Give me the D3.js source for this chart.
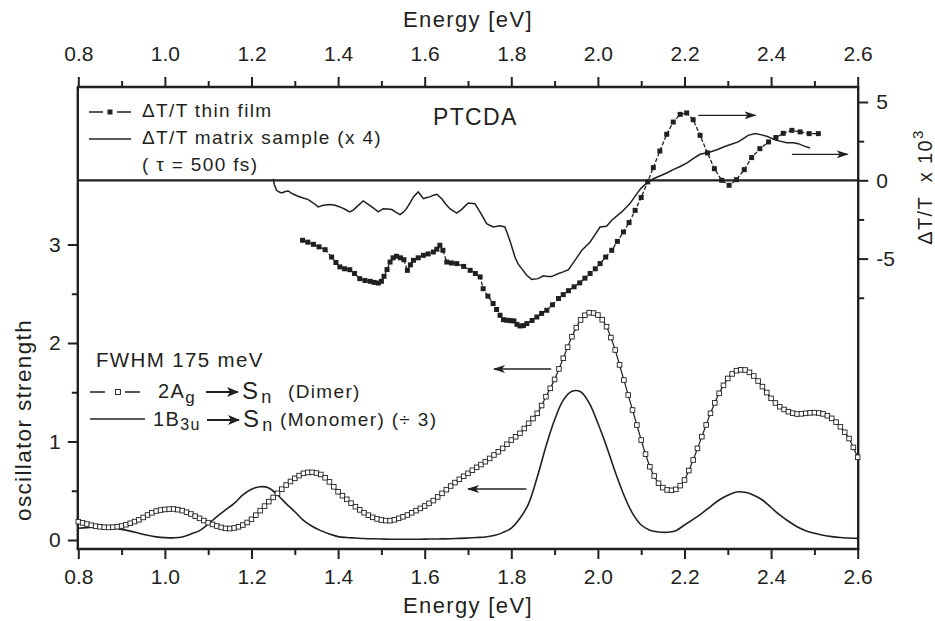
<!DOCTYPE html>
<html><head><meta charset="utf-8">
<script src="https://cdn.jsdelivr.net/npm/d3@7"></script>
<style>
body{margin:0;background:#fff}
svg{display:block}
text{font-family:"Liberation Sans",Arial,Helvetica,sans-serif;fill:#231f20}
.lbl{letter-spacing:1.35px}
</style>
</head><body>
<svg id="c" width="935" height="621"></svg>
<script>
// ---------- DATA ----------
const xMajorTicks = [0.8,1.0,1.2,1.4,1.6,1.8,2.0,2.2,2.4,2.6];
const xMinorTicks = [0.9,1.1,1.3,1.5,1.7,1.9,2.1,2.3,2.5];
const leftMajorTicks = [0,1,2,3];
const leftMinorTicks = [0.5,1.5,2.5];
const rightMajorTicks = [-5,0,5];
const rightMinorTicks = [-7.5,-2.5,2.5];

// Dimer 2Ag -> Sn, energies 0.80..2.60 step 0.01
const dimerStart = 0.80, dimerStep = 0.01;
const dimer = [
0.186,0.174,0.162,0.150,0.140,0.134,0.130,0.128,0.130,0.135,
0.142,0.155,0.170,0.187,0.205,0.229,0.254,0.276,0.294,0.304,
0.310,0.314,0.315,0.308,0.298,0.282,0.264,0.242,0.220,0.197,
0.176,0.158,0.142,0.128,0.118,0.116,0.122,0.134,0.152,0.178,
0.210,0.252,0.298,0.344,0.390,0.432,0.474,0.516,0.558,0.594,
0.626,0.654,0.677,0.686,0.687,0.680,0.665,0.632,0.590,0.540,
0.490,0.450,0.413,0.374,0.338,0.306,0.277,0.252,0.230,0.214,
0.203,0.197,0.196,0.205,0.220,0.236,0.254,0.276,0.298,0.321,
0.345,0.372,0.400,0.437,0.474,0.511,0.548,0.583,0.616,0.647,
0.677,0.708,0.738,0.766,0.795,0.828,0.863,0.896,0.930,0.972,
1.015,1.048,1.083,1.132,1.185,1.233,1.286,1.365,1.455,1.540,
1.630,1.737,1.845,1.958,2.064,2.156,2.234,2.282,2.308,2.304,
2.284,2.236,2.166,2.055,1.929,1.778,1.624,1.472,1.320,1.167,
1.015,0.872,0.744,0.650,0.576,0.532,0.508,0.504,0.514,0.552,
0.609,0.705,0.812,0.930,1.049,1.168,1.286,1.392,1.489,1.570,
1.640,1.686,1.719,1.728,1.726,1.702,1.665,1.614,1.557,1.497,
1.438,1.391,1.353,1.325,1.303,1.288,1.279,1.281,1.286,1.291,
1.293,1.289,1.280,1.262,1.235,1.197,1.150,1.094,1.030,0.940,
0.840];

// Monomer 1B3u -> Sn (/3), energies 0.80..2.60 step 0.02
const monoStart = 0.80, monoStep = 0.02;
const monomer = [
0.120,0.125,0.130,0.130,0.122,0.108,0.090,0.068,0.048,0.032,
0.024,0.022,0.030,0.061,0.095,0.160,0.237,0.305,0.372,0.457,
0.515,0.541,0.528,0.457,0.370,0.287,0.200,0.140,0.095,0.060,
0.034,0.025,0.020,0.015,0.012,0.010,0.008,0.008,0.008,0.008,
0.009,0.010,0.011,0.013,0.016,0.020,0.025,0.030,0.045,0.075,
0.120,0.220,0.370,0.640,0.950,1.220,1.420,1.510,1.505,1.390,
1.185,0.950,0.690,0.457,0.270,0.152,0.100,0.081,0.078,0.095,
0.152,0.210,0.270,0.340,0.406,0.455,0.487,0.484,0.455,0.406,
0.330,0.254,0.190,0.135,0.095,0.068,0.048,0.034,0.025,0.020,
0.016];

// dT/T thin film (x10^3): [energy, value]
const thinFilm = [
[1.318,-3.83],[1.330,-3.95],[1.343,-4.09],[1.356,-4.25],[1.370,-4.43],[1.385,-4.90],[1.395,-5.25],[1.404,-5.53],
[1.415,-5.65],[1.427,-5.71],[1.438,-5.95],[1.450,-6.28],[1.462,-6.40],[1.474,-6.45],[1.483,-6.52],[1.493,-6.56],
[1.500,-6.45],[1.506,-6.13],[1.513,-5.70],[1.520,-5.22],[1.527,-4.95],[1.535,-4.85],[1.544,-4.95],[1.552,-5.07],
[1.560,-5.75],[1.567,-5.40],[1.574,-5.11],[1.585,-4.95],[1.597,-4.79],[1.608,-4.70],[1.620,-4.58],[1.628,-4.40],
[1.635,-4.15],[1.642,-4.47],[1.651,-5.22],[1.662,-5.28],[1.674,-5.32],[1.690,-5.50],[1.705,-5.75],[1.717,-5.95],
[1.728,-6.17],[1.735,-6.92],[1.746,-7.40],[1.758,-7.87],[1.766,-8.25],[1.774,-8.62],[1.782,-8.90],[1.790,-8.94],
[1.798,-8.96],[1.806,-8.98],[1.813,-9.20],[1.820,-9.30],[1.828,-9.28],[1.836,-9.15],[1.848,-8.95],[1.859,-8.73],
[1.870,-8.50],[1.882,-8.30],[1.895,-7.95],[1.909,-7.55],[1.920,-7.30],[1.932,-7.05],[1.945,-6.80],[1.958,-6.55],
[1.970,-6.25],[1.982,-5.95],[1.994,-5.65],[2.005,-5.32],[2.018,-4.90],[2.032,-4.47],[2.045,-3.90],[2.059,-3.30],
[2.072,-2.70],[2.086,-1.92],[2.100,-1.10],[2.115,-0.10],[2.128,0.81],[2.143,1.87],[2.159,2.94],[2.174,3.72],
[2.190,4.21],[2.205,4.30],[2.220,3.87],[2.236,2.87],[2.253,1.75],[2.269,0.74],[2.286,0.00],[2.303,-0.32],
[2.320,0.04],[2.338,0.68],[2.355,1.45],[2.374,2.02],[2.394,2.45],[2.411,2.73],[2.428,3.00],[2.448,3.19],
[2.467,3.09],[2.488,2.98],[2.509,2.98]];

// dT/T matrix sample (x4, x10^3): [energy, value]
const matrixSample = [
[1.250,0.10],[1.253,-0.30],[1.258,-0.64],[1.264,-0.75],[1.270,-0.81],[1.278,-0.72],[1.285,-0.68],[1.291,-0.80],
[1.297,-0.89],[1.306,-1.00],[1.316,-1.10],[1.331,-1.23],[1.343,-1.45],[1.354,-1.70],[1.366,-1.60],[1.381,-1.55],
[1.393,-1.60],[1.404,-1.70],[1.416,-1.85],[1.427,-2.02],[1.435,-1.90],[1.443,-1.70],[1.458,-1.32],[1.468,-1.50],
[1.478,-1.70],[1.493,-2.02],[1.504,-1.81],[1.514,-1.83],[1.524,-1.87],[1.534,-2.05],[1.543,-2.19],[1.550,-2.05],
[1.558,-1.81],[1.566,-1.45],[1.574,-1.06],[1.585,-0.74],[1.591,-0.95],[1.597,-1.17],[1.605,-1.10],[1.612,-1.06],
[1.620,-0.95],[1.628,-0.89],[1.639,-1.17],[1.648,-1.50],[1.658,-1.81],[1.674,-2.09],[1.685,-1.87],[1.693,-1.65],
[1.701,-1.45],[1.716,-1.49],[1.724,-1.85],[1.732,-2.23],[1.743,-2.77],[1.758,-2.98],[1.774,-2.90],[1.785,-2.98],
[1.791,-3.40],[1.797,-3.88],[1.803,-4.40],[1.809,-4.95],[1.816,-5.35],[1.824,-5.64],[1.835,-6.05],[1.847,-6.33],
[1.862,-6.28],[1.874,-6.10],[1.884,-6.15],[1.893,-6.15],[1.909,-5.95],[1.920,-5.85],[1.932,-5.70],[1.947,-5.11],
[1.963,-4.47],[1.982,-3.94],[1.995,-3.40],[2.005,-2.98],[2.020,-2.94],[2.032,-2.55],[2.055,-2.02],[2.074,-1.49],
[2.090,-0.85],[2.100,-0.50],[2.113,-0.17],[2.128,0.10],[2.147,0.32],[2.160,0.48],[2.174,0.68],[2.190,0.88],
[2.205,1.10],[2.220,1.38],[2.236,1.66],[2.259,1.81],[2.275,1.95],[2.290,2.13],[2.308,2.30],[2.324,2.45],
[2.335,2.65],[2.347,2.87],[2.363,2.98],[2.378,2.90],[2.390,2.81],[2.413,2.55],[2.436,2.40],[2.451,2.40],
[2.463,2.34],[2.475,2.20],[2.490,2.06]];

// annotation arrows in data units: [E from, E to, value, axis]
const arrows = [
  [2.232, 2.364, 4.15, "R"],
  [2.448, 2.577, 1.66, "R"],
  [1.892, 1.760, 1.736, "L"],
  [1.835, 1.700, 0.518, "L"]
];

// ---------- CHART ----------
const W = 935, H = 621;
const L = 77.8, R = 858.2, T = 87, B = 549;
const ink = "#231f20";
const svg = d3.select("#c");

const x = d3.scaleLinear().domain([0.8, 2.6]).range([78.3, 857.7]);
const yL = d3.scaleLinear().domain([0, 1]).range([540, 441.5]);
const yR = d3.scaleLinear().domain([0, 5]).range([180.3, 102]);

const defs = svg.append("defs");
defs.append("marker").attr("id","ah").attr("viewBox","0 0 12 8")
  .attr("refX",11).attr("refY",4).attr("markerWidth",12).attr("markerHeight",8)
  .attr("markerUnits","userSpaceOnUse").attr("orient","auto")
  .append("path").attr("d","M0,0 L12,4 L0,8 L3,4 Z").attr("fill",ink);
defs.append("marker").attr("id","ah2").attr("viewBox","0 0 12 10")
  .attr("refX",11).attr("refY",5).attr("markerWidth",12).attr("markerHeight",10)
  .attr("markerUnits","userSpaceOnUse").attr("orient","auto")
  .append("path").attr("d","M0,0 L12,5 L0,10 L3,5 Z").attr("fill",ink);

function styleAxis(g, labels){
  g.select(".domain").remove();
  g.selectAll(".tick line").attr("stroke",ink).attr("stroke-width",2);
  g.selectAll(".tick text").attr("fill",ink).style("font-size","21px")
    .style("font-family",'"Liberation Sans",Arial,Helvetica,sans-serif');
  if(!labels) g.selectAll(".tick text").remove();
}
const fmt1 = d3.format(".1f");
// bottom
svg.append("g").attr("transform",`translate(0,${B})`)
  .call(d3.axisBottom(x).tickValues(xMajorTicks).tickSize(10).tickPadding(10).tickFormat(fmt1))
  .call(g=>styleAxis(g,true));
svg.append("g").attr("transform",`translate(0,${B})`)
  .call(d3.axisBottom(x).tickValues(xMinorTicks).tickSize(6).tickFormat(""))
  .call(g=>styleAxis(g,false));
// top
svg.append("g").attr("transform",`translate(0,${T})`)
  .call(d3.axisTop(x).tickValues(xMajorTicks).tickSize(10).tickPadding(16).tickFormat(fmt1))
  .call(g=>styleAxis(g,true));
svg.append("g").attr("transform",`translate(0,${T})`)
  .call(d3.axisTop(x).tickValues(xMinorTicks).tickSize(6).tickFormat(""))
  .call(g=>styleAxis(g,false));
// left
svg.append("g").attr("transform",`translate(${L},0)`)
  .call(d3.axisLeft(yL).tickValues(leftMajorTicks).tickSize(10).tickPadding(7).tickFormat(d3.format("d")))
  .call(g=>styleAxis(g,true));
svg.append("g").attr("transform",`translate(${L},0)`)
  .call(d3.axisLeft(yL).tickValues(leftMinorTicks).tickSize(6).tickFormat(""))
  .call(g=>styleAxis(g,false));
// right
svg.append("g").attr("transform",`translate(${R},0)`)
  .call(d3.axisRight(yR).tickValues(rightMajorTicks).tickSize(10).tickPadding(8)
        .tickFormat(d => d < 0 ? "-" + Math.abs(d) : String(d)))
  .call(g=>styleAxis(g,true));
svg.append("g").attr("transform",`translate(${R},0)`)
  .call(d3.axisRight(yR).tickValues(rightMinorTicks).tickSize(6).tickFormat(""))
  .call(g=>styleAxis(g,false));

// frame
const frame = svg.append("g").attr("stroke",ink).attr("stroke-width",2.4).attr("fill","none");
frame.append("line").attr("x1",L).attr("x2",L).attr("y1",T).attr("y2",B+1);
frame.append("line").attr("x1",R).attr("x2",R).attr("y1",T).attr("y2",B+1);
frame.append("line").attr("x1",L-1).attr("x2",R+1).attr("y1",T).attr("y2",T);
frame.append("line").attr("x1",L-1).attr("x2",R+1).attr("y1",B).attr("y2",B);
// zero line of right axis
svg.append("line").attr("x1",L).attr("x2",R).attr("y1",yR(0)).attr("y2",yR(0))
  .attr("stroke",ink).attr("stroke-width",2.2);

// curves
const dimerPts = dimer.map((v,i)=>[dimerStart+i*dimerStep, v]);
const monoPts = monomer.map((v,i)=>[monoStart+i*monoStep, v]);
const lineL = d3.line().x(d=>x(d[0])).y(d=>yL(d[1])).curve(d3.curveCatmullRom);
const lineR = d3.line().x(d=>x(d[0])).y(d=>yR(d[1]));

svg.append("path").attr("d",lineL(monoPts)).attr("fill","none").attr("stroke",ink).attr("stroke-width",1.6);
svg.append("path").attr("d",lineL(dimerPts)).attr("fill","none").attr("stroke",ink).attr("stroke-width",1.2);
const sq = 4.6;
svg.append("g").selectAll("rect").data(dimerPts).join("rect")
  .attr("x",d=>x(d[0])-sq/2).attr("y",d=>yL(d[1])-sq/2).attr("width",sq).attr("height",sq)
  .attr("fill","#fff").attr("stroke",ink).attr("stroke-width",0.9);

svg.append("path").attr("d",lineR.curve(d3.curveLinear)(matrixSample)).attr("fill","none")
  .attr("stroke",ink).attr("stroke-width",1.5);
svg.append("path").attr("d",lineR(thinFilm)).attr("fill","none")
  .attr("stroke",ink).attr("stroke-width",1.3).attr("stroke-dasharray","4,2");
const fs = 5;
svg.append("g").selectAll("rect").data(thinFilm).join("rect")
  .attr("x",d=>x(d[0])-fs/2).attr("y",d=>yR(d[1])-fs/2).attr("width",fs).attr("height",fs)
  .attr("fill",ink);

// annotation arrows
svg.append("g").selectAll("line").data(arrows).join("line")
  .attr("x1",d=>x(d[0])).attr("x2",d=>x(d[1]))
  .attr("y1",d=>(d[3]==="R"?yR:yL)(d[2])).attr("y2",d=>(d[3]==="R"?yR:yL)(d[2]))
  .attr("stroke",ink).attr("stroke-width",1.3).attr("marker-end","url(#ah)");

// titles
svg.append("text").attr("class","lbl").attr("x",(L+R)/2).attr("y",27).attr("text-anchor","middle")
  .style("font-size","22px").text("Energy [eV]");
svg.append("text").attr("class","lbl").attr("x",(L+R)/2).attr("y",613).attr("text-anchor","middle")
  .style("font-size","22px").text("Energy [eV]");
svg.append("text").attr("class","lbl").attr("transform","translate(31,420) rotate(-90)")
  .attr("text-anchor","middle").style("font-size","22.5px").text("oscillator strength");
const rt = svg.append("text").attr("class","lbl").attr("transform","translate(932,187) rotate(-90)")
  .attr("text-anchor","middle").style("font-size","20px");
rt.append("tspan").text("\u0394T/T\u00a0 x 10");
rt.append("tspan").attr("dy",-9).style("font-size","15px").text("3");

// PTCDA
svg.append("text").attr("class","lbl").attr("x",433).attr("y",125).style("font-size","23px").text("PTCDA");

// top legend
const tl = svg.append("g");
tl.append("line").attr("x1",89).attr("x2",103).attr("y1",112).attr("y2",112).attr("stroke",ink).attr("stroke-width",1.5);
tl.append("line").attr("x1",117).attr("x2",131).attr("y1",112).attr("y2",112).attr("stroke",ink).attr("stroke-width",1.5);
tl.append("rect").attr("x",107.5).attr("y",109.5).attr("width",5).attr("height",5).attr("fill",ink);
tl.append("line").attr("x1",89).attr("x2",131).attr("y1",139).attr("y2",139).attr("stroke",ink).attr("stroke-width",1.5);
tl.append("text").attr("class","lbl").attr("x",142).attr("y",117).style("font-size","19px").text("\u0394T/T thin film");
tl.append("text").attr("class","lbl").attr("x",142).attr("y",144).style("font-size","19px").text("\u0394T/T matrix sample (x 4)");
tl.append("text").attr("class","lbl").attr("x",142).attr("y",171).style("font-size","19px").text("( \u03c4 = 500 fs)");

// bottom legend
const bl = svg.append("g");
bl.append("text").attr("class","lbl").attr("x",96).attr("y",367).style("font-size","20.5px").text("FWHM 175 meV");
// dimer row
bl.append("line").attr("x1",90).attr("x2",105).attr("y1",392).attr("y2",392).attr("stroke",ink).attr("stroke-width",1.5);
bl.append("line").attr("x1",125).attr("x2",140).attr("y1",392).attr("y2",392).attr("stroke",ink).attr("stroke-width",1.5);
bl.append("rect").attr("x",115.5).attr("y",389.5).attr("width",5).attr("height",5).attr("fill","#fff").attr("stroke",ink).attr("stroke-width",0.9);
const d1 = bl.append("text").attr("class","lbl").attr("x",158).attr("y",398).style("font-size","20px");
d1.append("tspan").text("2A");
d1.append("tspan").attr("dy",5).style("font-size","17px").text("g");
bl.append("line").attr("x1",206).attr("x2",238).attr("y1",392).attr("y2",392).attr("stroke",ink).attr("stroke-width",2).attr("marker-end","url(#ah2)");
const d2 = bl.append("text").attr("class","lbl").attr("x",242).attr("y",399).style("font-size","24px");
d2.append("tspan").text("S");
d2.append("tspan").attr("dx",2).attr("dy",4).style("font-size","18px").text("n");
bl.append("text").attr("class","lbl").attr("x",288).attr("y",398).style("font-size","19px").text("(Dimer)");
// monomer row
bl.append("line").attr("x1",90).attr("x2",145).attr("y1",419).attr("y2",419).attr("stroke",ink).attr("stroke-width",1.5);
const m1 = bl.append("text").attr("class","lbl").attr("x",153).attr("y",426).style("font-size","20px");
m1.append("tspan").text("1B");
m1.append("tspan").attr("dy",4).style("font-size","16px").text("3u");
bl.append("line").attr("x1",207).attr("x2",239).attr("y1",420).attr("y2",420).attr("stroke",ink).attr("stroke-width",2).attr("marker-end","url(#ah2)");
const m2 = bl.append("text").attr("class","lbl").attr("x",243).attr("y",427).style("font-size","24px");
m2.append("tspan").text("S");
m2.append("tspan").attr("dx",2).attr("dy",4).style("font-size","18px").text("n");
bl.append("text").attr("class","lbl").attr("x",280).attr("y",426).style("font-size","19px").text("(Monomer) (\u00f7 3)");
</script>
</body></html>
